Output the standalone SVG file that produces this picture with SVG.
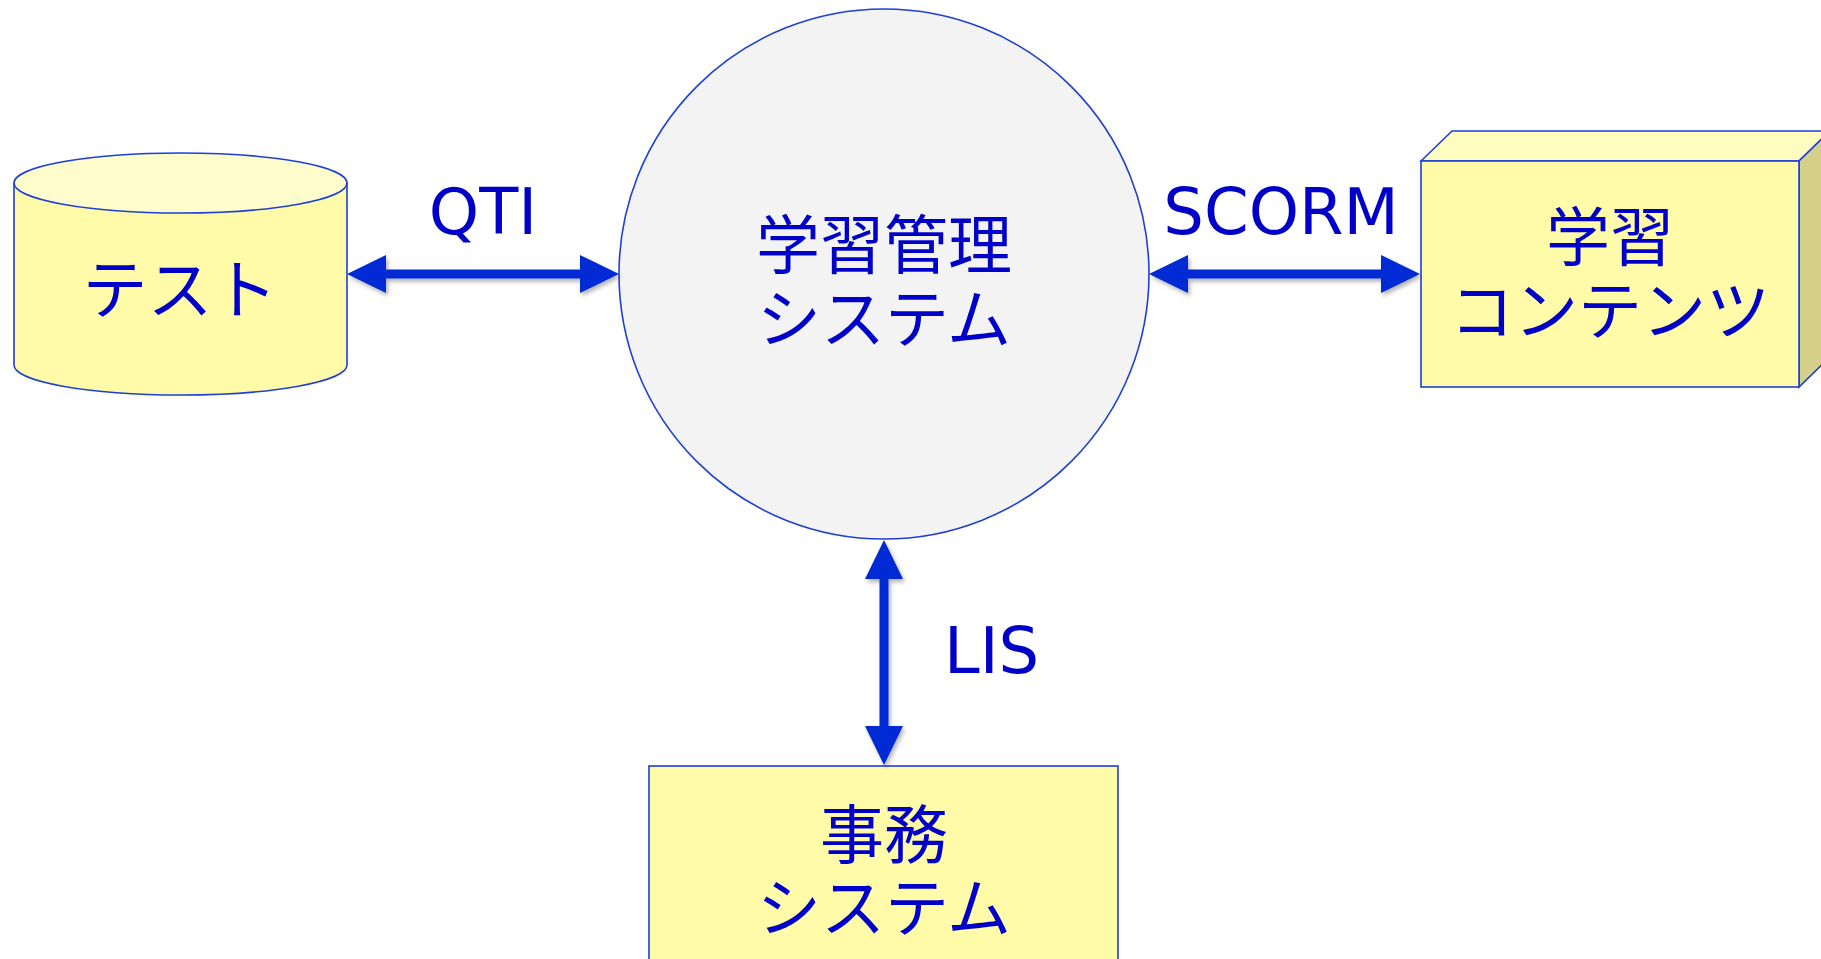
<svg xmlns="http://www.w3.org/2000/svg" width="1821" height="959" viewBox="0 0 1821 959">
<defs>
<style>
.jp{font-family:"Noto Sans CJK JP","Noto Sans",sans-serif;font-size:64px;fill:#0000C8;text-anchor:middle}
.lb{font-family:"DejaVu Sans","Verdana",sans-serif;font-size:64px;fill:#0000C8;text-anchor:middle}
.shape{stroke:#1F3FD6;stroke-width:1.6}
.ln{stroke:#042BD3;stroke-width:9;fill:none}
.hd{fill:#042BD3}
</style>
<filter id="sh" x="-20%" y="-20%" width="140%" height="140%">
<feDropShadow dx="2" dy="3" stdDeviation="2" flood-color="#000" flood-opacity="0.3"/>
</filter>
</defs>
<rect width="1821" height="959" fill="#fff"/>
<g id="node-test">
<path class="shape" d="M14,183 L14,365 A166.5,30 0 0 0 347,365 L347,183 Z" fill="#FFFBA8"/>
<ellipse class="shape" cx="180.5" cy="183" rx="166.5" ry="30" fill="#FFFDCC"/>
<text class="jp" x="180" y="313" style="font-size:65px">テスト</text>
</g>
<g id="node-lms">
<circle class="shape" cx="884" cy="274" r="265" fill="#F3F3F3"/>
<text class="jp" x="884" y="268">学習管理<tspan x="884" dy="74">システム</tspan></text>
</g>
<g id="node-contents">
<path class="shape" d="M1421,161 L1452,131 L1830,131 L1799,161 Z" fill="#FFFCC0"/>
<path class="shape" d="M1799,161 L1830,131 L1830,357 L1799,387 Z" fill="#D4D08A"/>
<rect class="shape" x="1421" y="161" width="378" height="226" fill="#FFFBA8"/>
<text class="jp" x="1610" y="260">学習<tspan x="1610" dy="74">コンテンツ</tspan></text>
</g>
<g id="node-office">
<rect class="shape" x="649" y="766" width="469" height="220" fill="#FFFBA8"/>
<text class="jp" x="884" y="858">事務<tspan x="884" dy="73">システム</tspan></text>
</g>
<g id="connectors">
<g filter="url(#sh)">
<line class="ln" x1="384" y1="274" x2="582" y2="274"/>
<path class="hd" d="M347,274 L386,255 L386,293 Z M619,274 L580,255 L580,293 Z"/>
</g>
<g filter="url(#sh)">
<line class="ln" x1="1186" y1="274" x2="1383" y2="274"/>
<path class="hd" d="M1149,274 L1188,255 L1188,293 Z M1420,274 L1381,255 L1381,293 Z"/>
</g>
<g filter="url(#sh)">
<line class="ln" x1="884" y1="577" x2="884" y2="728"/>
<path class="hd" d="M884,540 L865,579 L903,579 Z M884,765 L865,726 L903,726 Z"/>
</g>
</g>
<g id="labels">
<text class="lb" x="483" y="234">QTI</text>
<text class="lb" x="1281" y="234">SCORM</text>
<text class="lb" x="944" y="673" style="text-anchor:start">LIS</text>
</g>
</svg>
